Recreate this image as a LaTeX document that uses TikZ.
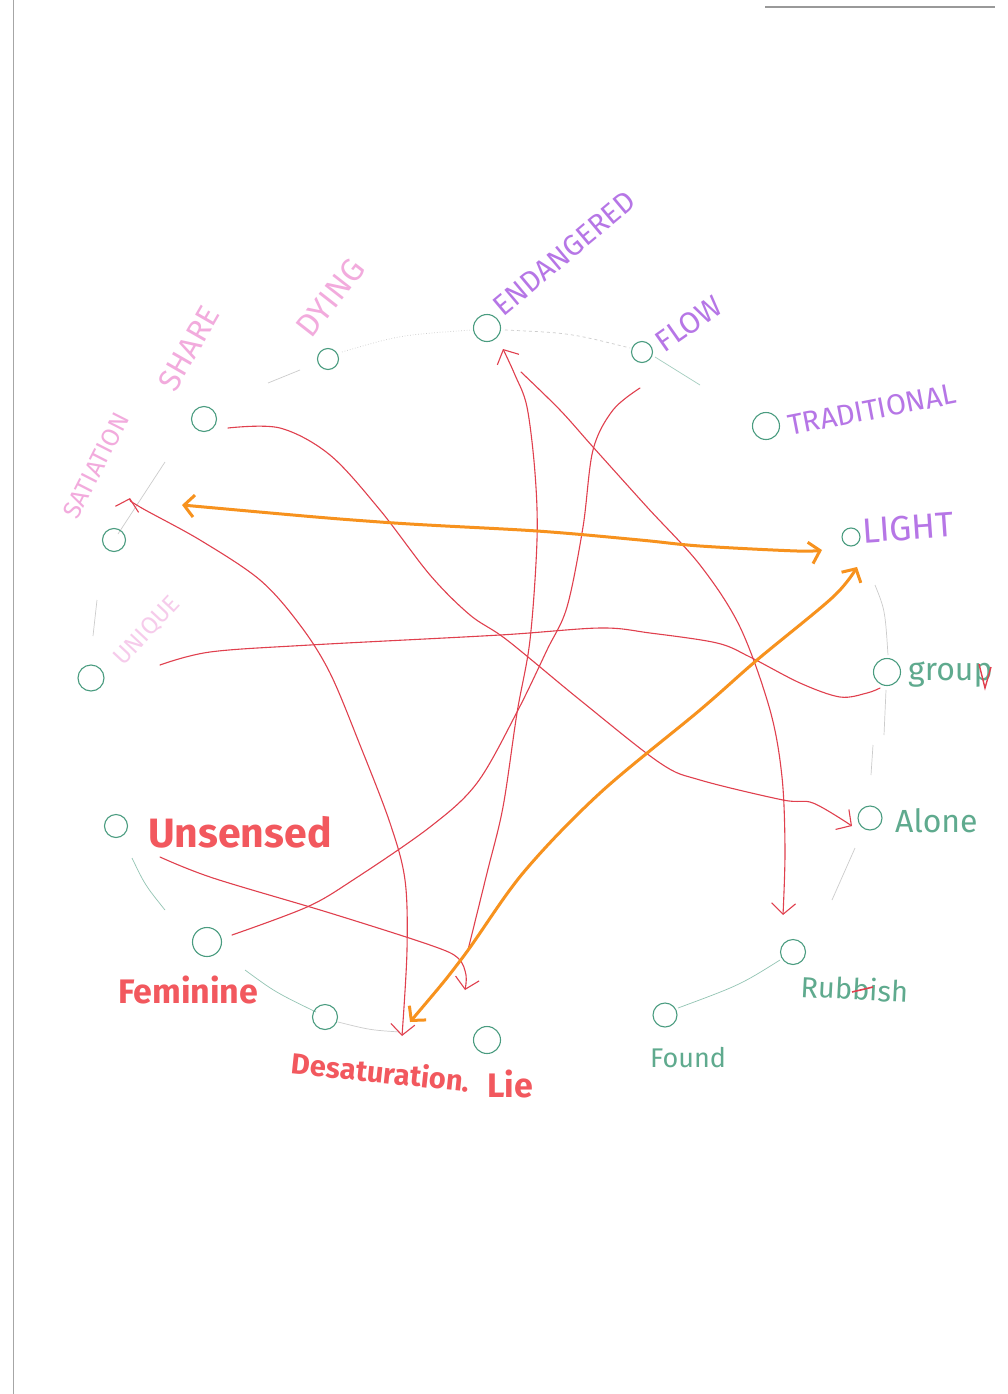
\documentclass[tikz,border=0pt]{standalone}
\usepackage{fontspec}
\usepackage{graphicx}
\setmainfont{Fira Sans}
\usetikzlibrary{arrows.meta}
\definecolor{grn}{HTML}{4A9C80}
\definecolor{grnT}{HTML}{5FAA8E}
\definecolor{pinkA}{HTML}{F2ABDD}
\definecolor{pinkB}{HTML}{F6CBEB}
\definecolor{viol}{HTML}{B676E6}
\definecolor{redT}{HTML}{F2585E}
\definecolor{redL}{HTML}{E0404E}
\definecolor{orng}{HTML}{F7921E}
\newcommand\fsz[1]{\fontsize{#1}{#1}\selectfont}
\begin{document}
\begin{tikzpicture}[x=1pt,y=-1pt,
  ring/.style={circle,draw=grn,line width=1.1pt,minimum size=#1,inner sep=0pt},
  ring/.default=25pt,
  lab/.style={inner sep=0pt,anchor=west},
  rline/.style={draw=redL,line width=1.1pt,line cap=round,line join=round},
  oline/.style={draw=orng,line width=3pt,line cap=round,line join=round},
  rtip/.style={-{Straight Barb[length=11pt,width=24pt]}},
  otip/.style={{Straight Barb[length=10pt,width=22pt]}-{Straight Barb[length=10pt,width=22pt]}},
  rtip2/.style={{Straight Barb[length=11pt,width=24pt]}-{Straight Barb[length=11pt,width=24pt]}},
  rim/.style={draw=gray!40,line width=0.7pt},
  sm/.style={smooth,tension=0.55}]
\useasboundingbox (0,0) rectangle (1007,1394);
\fill[white] (0,0) rectangle (1007,1394);
% page edges
\draw[gray!70,line width=1pt] (13,0) -- (13,1394);
\draw[gray!80,line width=1.2pt] (765,7) -- (995,7);

% rim
\draw[rim] (118,534) -- (165,462);
\draw[rim] (268,383) -- (300,370);
\draw[rim,dotted] (342,352) .. controls (400,335) .. (472,330);
\draw[rim,dashed] (505,330) .. controls (570,333) .. (630,348);
\draw[rim,draw=grn!50] (655,357) -- (700,385);
\draw[rim] (97,600) -- (93,636);
\draw[rim,draw=grn!60] (132,858) .. controls (145,885) .. (165,910);
\draw[rim,draw=grn!60] (245,970) .. controls (275,992) .. (316,1012);
\draw[rim] (338,1022) .. controls (370,1030) .. (400,1032);
\draw[rim] (875,585) .. controls (885,610) .. (888,655);
\draw[rim] (886,690) -- (884,735);
\draw[rim] (873,745) -- (871,775);
\draw[rim] (855,848) -- (832,900);
\draw[rim,draw=grn!60] (780,960) .. controls (740,985) .. (678,1008);

% nodes
\node[ring=23pt] (nSat) at (114,540) {};
\node[ring] (nSha) at (204,419) {};
\node[ring=21pt] (nDyi) at (328,359) {};
\node[ring=27pt] (nEnd) at (487,328) {};
\node[ring=21pt] (nFlo) at (642,352) {};
\node[ring=27pt] (nTra) at (766,426) {};
\node[ring=18pt] (nLig) at (851,537) {};
\node[ring=27pt] (nGro) at (887,672) {};
\node[ring=24pt] (nAlo) at (870,818) {};
\node[ring=25pt] (nRub) at (793,952) {};
\node[ring=24pt] (nFou) at (665,1015) {};
\node[ring=27pt] (nLie) at (487,1040) {};
\node[ring=25pt] (nDes) at (325,1017) {};
\node[ring=29pt] (nFem) at (207,942) {};
\node[ring=23pt] (nUns) at (116,826) {};
\node[ring=26pt] (nUni) at (91,678) {};

% labels
\node[lab,text=pinkA,rotate=63] (tSat) at (70,517) {\fsz{25}SATIATION};
\node[lab,text=pinkA,rotate=60] (tSha) at (166,388) {\fsz{31}SHARE};
\node[lab,text=pinkA,rotate=52] (tDyi) at (303,333) {\fsz{32}DYING};
\node[lab,text=viol,rotate=40] (tEnd) at (497,310) {\fsz{29}ENDANGERED};
\node[lab,text=viol,rotate=35] (tFlo) at (658,345) {\fsz{30}FLOW};
\node[lab,text=viol,rotate=11] (tTra) at (788,426) {\fsz{29}TRADITIONAL};
\node[lab,text=viol,rotate=4] (tLig) at (862,531) {\fsz{35}LIGHT};
\node[lab,text=pinkB,rotate=47] (tUni) at (118,662) {\fsz{24}UNIQUE};
\node[lab,text=redT] (tUns) at (148,832) {\fsz{41}\bfseries Unsensed};
\node[lab,text=redT] (tFem) at (118,990) {\fsz{34}\bfseries Feminine};
\node[lab,text=redT,rotate=-6] (tDes) at (292,1062) {\fsz{29}\bfseries Desaturation.};
\node[lab,text=redT] (tLie) at (487,1084) {\fsz{34}\bfseries Lie};
\node[inner sep=0pt,anchor=base west,text=grnT] (tGro) at (908,680) {\fsz{32}group};
\node[inner sep=0pt,anchor=base west,text=grnT] (tAlo) at (895,832) {\fsz{32}Alone};
\node[inner sep=0pt,anchor=base west,text=grnT,rotate=-3] (tRub) at (800,997) {\fsz{29}Rubbish};
\node[inner sep=0pt,anchor=base west,text=grnT] (tFou) at (650,1067) {\fsz{27}Found};
\draw[redL,line width=1.6pt] (852,992) -- (873,987);
\draw[redL,line width=1.4pt] (979,664) -- (985,688) -- (991,667);

% connector end points
\coordinate (satA) at (182,505);
\coordinate (ligA) at (822,550);
\coordinate (ligB) at (857,567);
\coordinate (desA) at (410,1022);
\coordinate (satB) at (130,498);
\coordinate (desB) at (402,1036);
\coordinate (shaA) at (228,428);
\coordinate (aloA) at (852,826);
\coordinate (endA) at (503,349);
\coordinate (endB) at (521,372);
\coordinate (rubA) at (783,915);
\coordinate (lieA) at (468,950);
\coordinate (floA) at (640,388);
\coordinate (femA) at (232,935);
\coordinate (unsA) at (160,857);
\coordinate (lieB) at (465,990);
\coordinate (uniA) at (160,665);
\coordinate (groA) at (880,688);

% red connectors
\draw[rline,rtip2] plot[sm] coordinates {(satB) (140,507) (200,540) (260,580) (300,625) (330,673) (360,745) (390,823) (405,880) (407,950) (desB)};
\draw[rline,rtip] plot[sm] coordinates {(shaA) (280,428) (330,455) (380,510) (430,575) (470,615) (507,640) (580,700) (660,763) (700,780) (783,800) (813,803) (aloA)};
\draw[rline,rtip] plot[sm] coordinates {(lieA) (487,873) (503,807) (517,713) (530,640) (537,540) (535,473) (527,407) (515,375) (endA)};
\draw[rline,rtip] plot[sm] coordinates {(endB) (560,410) (593,447) (647,507) (700,565) (740,627) (770,710) (782,777) (785,850) (rubA)};
\draw[rline] plot[sm] coordinates {(floA) (613,410) (593,450) (583,527) (567,607) (547,650) (517,712) (477,783) (430,827) (353,880) (307,907) (femA)};
\draw[rline,rtip] plot[sm] coordinates {(unsA) (213,878) (330,913) (430,945) (458,958) (466,975) (lieB)};
\draw[rline] plot[sm] coordinates {(uniA) (210,652) (310,645) (500,635) (600,628) (650,633) (717,643) (750,657) (800,683) (840,697) (867,693) (groA)};

% orange connectors
\draw[oline,otip] plot[sm] coordinates {(satA) (380,522) (537,531) (640,540) (700,546) (797,551) (ligA)};
\draw[oline,otip] plot[sm] coordinates {(desA) (463,957) (523,873) (600,793) (700,710) (757,660) (833,597) (ligB)};
\end{tikzpicture}
\end{document}
